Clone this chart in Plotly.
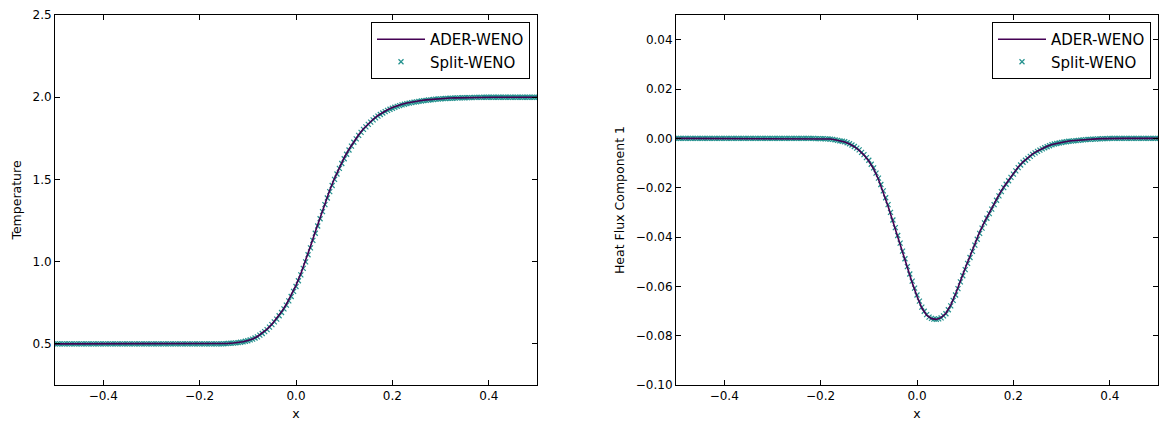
import numpy as np
import plotly.graph_objects as go

# ---------------- data ----------------
# sample grids: ADER-WENO line every 0.01, Split-WENO markers every 0.005
x_ader = np.round(np.linspace(-0.5, 0.5, 101), 3)
x_split = np.round(np.linspace(-0.5, 0.5, 201), 4)

temp_ader = [
    0.500, 0.500, 0.500, 0.500, 0.500, 0.500, 0.500, 0.500, 0.500, 0.500,
    0.500, 0.500, 0.500, 0.500, 0.500, 0.500, 0.500, 0.500, 0.500, 0.500,
    0.500, 0.500, 0.500, 0.500, 0.500, 0.500, 0.500, 0.500, 0.500, 0.500,
    0.500, 0.500, 0.500, 0.500,
    0.500, 0.501, 0.503, 0.505, 0.508, 0.513, 0.520, 0.530, 0.545, 0.565,
    0.590, 0.620, 0.655, 0.695, 0.741, 0.794, 0.856, 0.927, 1.007, 1.093,
    1.182, 1.270, 1.355, 1.434, 1.507, 1.573, 1.632, 1.684, 1.731, 1.772,
    1.808, 1.839, 1.866, 1.889, 1.908, 1.924, 1.937, 1.948, 1.957, 1.965,
    1.971, 1.976, 1.980, 1.984, 1.987, 1.990, 1.992, 1.994, 1.995, 1.996,
    1.997, 1.998, 1.998, 1.999, 1.999, 2.000, 2.000,
    2.000, 2.000, 2.000, 2.000, 2.000, 2.000, 2.000, 2.000, 2.000, 2.000,
]

temp_split = [
    0.500, 0.500, 0.500, 0.500, 0.500, 0.500, 0.500, 0.500, 0.500, 0.500,
    0.500, 0.500, 0.500, 0.500, 0.500, 0.500, 0.500, 0.500, 0.500, 0.500,
    0.500, 0.500, 0.500, 0.500, 0.500, 0.500, 0.500, 0.500, 0.500, 0.500,
    0.500, 0.500, 0.500, 0.500, 0.500, 0.500, 0.500, 0.500, 0.500, 0.500,
    0.500, 0.500, 0.500, 0.500, 0.500, 0.500, 0.500, 0.500, 0.500, 0.500,
    0.500, 0.500, 0.500, 0.500, 0.500, 0.500, 0.500, 0.500, 0.500, 0.500,
    0.500, 0.500, 0.500, 0.500, 0.500, 0.500, 0.500, 0.500,
    0.500, 0.500, 0.501, 0.502, 0.503, 0.504, 0.505, 0.506, 0.508, 0.510,
    0.512, 0.516, 0.519, 0.524, 0.529, 0.536, 0.543, 0.553, 0.563, 0.575,
    0.587, 0.602, 0.617, 0.634, 0.651, 0.671, 0.691, 0.713, 0.736, 0.762,
    0.788, 0.819, 0.849, 0.884, 0.920, 0.959, 0.999, 1.042, 1.084, 1.129,
    1.173, 1.217, 1.261, 1.304, 1.347, 1.387, 1.426, 1.463, 1.500, 1.533,
    1.567, 1.597, 1.626, 1.653, 1.679, 1.703, 1.726, 1.747, 1.768, 1.786,
    1.804, 1.820, 1.835, 1.849, 1.862, 1.874, 1.885, 1.895, 1.904, 1.912,
    1.920, 1.927, 1.933, 1.939, 1.944, 1.949, 1.953, 1.957, 1.961, 1.964,
    1.967, 1.970, 1.972, 1.975, 1.977, 1.979, 1.981, 1.983, 1.984, 1.986,
    1.988, 1.989, 1.990, 1.991, 1.992, 1.993, 1.994, 1.994, 1.995, 1.996,
    1.996, 1.997, 1.997, 1.998, 1.998, 1.998, 1.999, 1.999, 1.999, 1.999,
    2.000, 2.000, 2.000,
    2.000, 2.000, 2.000, 2.000, 2.000, 2.000, 2.000, 2.000, 2.000, 2.000,
    2.000, 2.000, 2.000, 2.000, 2.000, 2.000, 2.000, 2.000, 2.000, 2.000,
]

flux_ader = [
    0.0000, 0.0000, 0.0000, 0.0000, 0.0000, 0.0000, 0.0000, 0.0000, 0.0000, 0.0000,
    0.0000, 0.0000, 0.0000, 0.0000, 0.0000, 0.0000, 0.0000, 0.0000, 0.0000, 0.0000,
    0.0000, 0.0000, 0.0000, 0.0000, 0.0000, 0.0000, 0.0000, 0.0000,
    0.0000, -0.0001, -0.0001, -0.0002, -0.0003, -0.0006, -0.0010, -0.0015, -0.0023, -0.0034,
    -0.0049, -0.0068, -0.0092, -0.0124, -0.0166, -0.0218, -0.0275, -0.0337, -0.0400, -0.0463,
    -0.0526, -0.0585, -0.0640, -0.0688, -0.0717, -0.0731, -0.0734, -0.0727, -0.0709, -0.0676,
    -0.0631, -0.0577, -0.0527, -0.0478, -0.0428, -0.0380, -0.0339, -0.0301, -0.0265, -0.0229,
    -0.0197, -0.0169, -0.0142, -0.0116, -0.0095, -0.0079, -0.0063, -0.0051, -0.0041, -0.0032,
    -0.0025, -0.0020, -0.0016, -0.0013, -0.0010, -0.0008, -0.0006, -0.0004, -0.0003, -0.0002,
    -0.0001, -0.0001, 0.0000,
    0.0000, 0.0000, 0.0000, 0.0000, 0.0000, 0.0000, 0.0000, 0.0000, 0.0000, 0.0000,
]

flux_split = [
    0.0000, 0.0000, 0.0000, 0.0000, 0.0000, 0.0000, 0.0000, 0.0000, 0.0000, 0.0000,
    0.0000, 0.0000, 0.0000, 0.0000, 0.0000, 0.0000, 0.0000, 0.0000, 0.0000, 0.0000,
    0.0000, 0.0000, 0.0000, 0.0000, 0.0000, 0.0000, 0.0000, 0.0000, 0.0000, 0.0000,
    0.0000, 0.0000, 0.0000, 0.0000, 0.0000, 0.0000, 0.0000, 0.0000, 0.0000, 0.0000,
    0.0000, 0.0000, 0.0000, 0.0000, 0.0000, 0.0000, 0.0000, 0.0000, 0.0000, 0.0000,
    0.0000, 0.0000, 0.0000, 0.0000, 0.0000, 0.0000,
    0.0000, 0.0000, -0.0001, -0.0001, -0.0001, -0.0001, -0.0002, -0.0002, -0.0003, -0.0004,
    -0.0006, -0.0008, -0.0010, -0.0012, -0.0014, -0.0018, -0.0022, -0.0027, -0.0033, -0.0040,
    -0.0047, -0.0057, -0.0066, -0.0078, -0.0089, -0.0105, -0.0120, -0.0141, -0.0161, -0.0187,
    -0.0213, -0.0241, -0.0269, -0.0300, -0.0331, -0.0362, -0.0394, -0.0425, -0.0457, -0.0488,
    -0.0520, -0.0550, -0.0579, -0.0607, -0.0635, -0.0660, -0.0684, -0.0701, -0.0715, -0.0725,
    -0.0730, -0.0733, -0.0734, -0.0732, -0.0728, -0.0720, -0.0711, -0.0695, -0.0679, -0.0657,
    -0.0635, -0.0609, -0.0582, -0.0557, -0.0532, -0.0507, -0.0483, -0.0458, -0.0433, -0.0409,
    -0.0385, -0.0364, -0.0343, -0.0324, -0.0305, -0.0287, -0.0269, -0.0251, -0.0233, -0.0216,
    -0.0200, -0.0186, -0.0172, -0.0158, -0.0145, -0.0132, -0.0119, -0.0108, -0.0097, -0.0089,
    -0.0081, -0.0073, -0.0065, -0.0059, -0.0053, -0.0048, -0.0043, -0.0038, -0.0034, -0.0030,
    -0.0026, -0.0023, -0.0021, -0.0019, -0.0017, -0.0015, -0.0014, -0.0012, -0.0011, -0.0010,
    -0.0009, -0.0008, -0.0007, -0.0006, -0.0005, -0.0004, -0.0004, -0.0003, -0.0003, -0.0002,
    -0.0002, -0.0001, -0.0001, -0.0001, 0.0000,
    0.0000, 0.0000, 0.0000, 0.0000, 0.0000, 0.0000, 0.0000, 0.0000, 0.0000, 0.0000,
    0.0000, 0.0000, 0.0000, 0.0000, 0.0000, 0.0000, 0.0000, 0.0000, 0.0000, 0.0000,
]

assert len(temp_ader) == len(x_ader) and len(flux_ader) == len(x_ader)
assert len(temp_split) == len(x_split) and len(flux_split) == len(x_split)

x_ticks = [-0.4, -0.2, 0.0, 0.2, 0.4]
temp_ticks = [0.5, 1.0, 1.5, 2.0, 2.5]
flux_ticks = [-0.10, -0.08, -0.06, -0.04, -0.02, 0.00, 0.02, 0.04]

series_names = ["ADER-WENO", "Split-WENO"]
ader_color = "#440154"
split_color = "#21908d"

# ---------------- figure ----------------
fig = go.Figure()

split_marker = dict(symbol="x-thin", size=5, color=split_color,
                    line=dict(width=1.2, color=split_color))

panels = [
    (temp_split, temp_ader, "x", "y", "legend"),
    (flux_split, flux_ader, "x2", "y2", "legend2"),
]
for split_vals, ader_vals, xa, ya, lg in panels:
    fig.add_trace(go.Scatter(
        x=x_split, y=split_vals, mode="markers", name=series_names[1],
        marker=split_marker, xaxis=xa, yaxis=ya, legend=lg, legendrank=2))
    fig.add_trace(go.Scatter(
        x=x_ader, y=ader_vals, mode="lines", name=series_names[0],
        line=dict(color=ader_color, width=1.6), xaxis=xa, yaxis=ya,
        legend=lg, legendrank=1))

W, H = 1160, 425
ml, mr, mt, mb = 55, 2, 15, 40
pw = W - ml - mr

def px_to_paper_x(px):
    return (px - ml) / pw

axis_common = dict(showline=True, linecolor="black", linewidth=1,
                   mirror="ticks", ticks="inside", ticklen=5,
                   tickcolor="black", tickwidth=1, showgrid=False,
                   zeroline=False,
                   tickfont=dict(size=12, color="black"),
                   title_font=dict(size=12.5, color="black"))

legend_common = dict(y=1 - 7 / 370, xanchor="right", yanchor="top",
                     bordercolor="black", borderwidth=1, bgcolor="white",
                     itemwidth=48, font=dict(size=15, color="black"))

fig.update_layout(
    width=W, height=H,
    margin=dict(l=ml, r=mr, t=mt, b=mb),
    paper_bgcolor="white", plot_bgcolor="white",
    font=dict(family="DejaVu Sans", color="black"),
    xaxis=dict(axis_common, domain=[0, px_to_paper_x(537)], range=[-0.5, 0.5],
               tickvals=x_ticks, tickformat=".1f", anchor="y",
               title=dict(text="x", standoff=6), automargin=False),
    yaxis=dict(axis_common, domain=[0, 1], range=[0.25, 2.5],
               tickvals=temp_ticks, tickformat=".1f", anchor="x",
               title=dict(text="Temperature", standoff=8), automargin=False),
    xaxis2=dict(axis_common, domain=[px_to_paper_x(676), 1], range=[-0.5, 0.5],
                tickvals=x_ticks, tickformat=".1f", anchor="y2",
                title=dict(text="x", standoff=6), automargin=False),
    yaxis2=dict(axis_common, domain=[0, 1], range=[-0.10, 0.05],
                tickvals=flux_ticks, tickformat=".2f", anchor="x2",
                title=dict(text="Heat Flux Component 1", standoff=8),
                automargin=False),
    legend=dict(legend_common, x=px_to_paper_x(530)),
    legend2=dict(legend_common, x=px_to_paper_x(1151)),
)

fig.write_html("out.html",
               config={"displayModeBar": False},
               post_script="document.body.style.margin='0px';"
                           "document.body.style.padding='0px';")
